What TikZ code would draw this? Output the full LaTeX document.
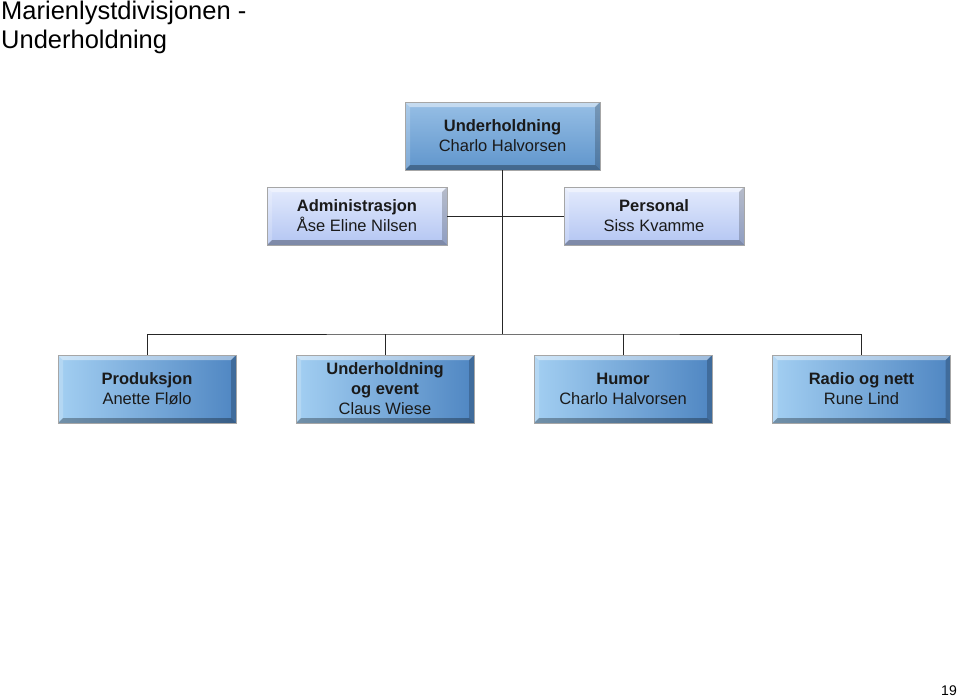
\documentclass[tikz,border=0pt]{standalone}
\usepackage{fontspec}
\setmainfont{Liberation Sans}
\usepackage{tikz}
\usetikzlibrary{calc,positioning}

\definecolor{topblue}{HTML}{7DAFDF}
\definecolor{topblued}{HTML}{5F95CC}
\definecolor{staffhi}{HTML}{E4EBFD}
\definecolor{stafflo}{HTML}{B3C5F2}
\definecolor{unithi}{HTML}{A3CFF2}
\definecolor{unitlo}{HTML}{4F86C2}
\definecolor{txt}{HTML}{1A1A1A}

\tikzset{
  bevel/.style={path picture={
      \fill[white,opacity=.45] (path picture bounding box.north west) -- (path picture bounding box.north east)
        -- ([shift={(-5,5)}]path picture bounding box.north east) -- ([shift={(5,5)}]path picture bounding box.north west) -- cycle;
      \fill[white,opacity=.2] (path picture bounding box.north west) -- (path picture bounding box.south west)
        -- ([shift={(5,-5)}]path picture bounding box.south west) -- ([shift={(5,5)}]path picture bounding box.north west) -- cycle;
      \fill[black,opacity=.3] (path picture bounding box.south west) -- (path picture bounding box.south east)
        -- ([shift={(-5,-5)}]path picture bounding box.south east) -- ([shift={(5,-5)}]path picture bounding box.south west) -- cycle;
      \fill[black,opacity=.2] (path picture bounding box.north east) -- (path picture bounding box.south east)
        -- ([shift={(-5,-5)}]path picture bounding box.south east) -- ([shift={(-5,5)}]path picture bounding box.north east) -- cycle;
  }},
  box/.style={bevel, draw=gray!70, line width=.6pt, align=center, text=txt, font=\fontsize{16.5}{20}\selectfont, inner sep=0pt},
  headbox/.style={box, minimum width=195, minimum height=68, top color=topblue!80!white, bottom color=topblued},
  staffbox/.style={box, minimum width=180, minimum height=58, top color=staffhi, bottom color=stafflo},
  unitbox/.style={box, minimum width=178, minimum height=68, shading=axis, shading angle=135, left color=unithi, right color=unitlo},
  link/.style={draw=black!85, line width=.8pt}
}

\begin{document}
\begin{tikzpicture}[x=1pt, y=-1pt]
        \useasboundingbox (0,0) rectangle (959,697);

        \node [anchor=north west, align=left, inner sep=0pt, font=\fontsize{25.5}{29}\selectfont] (title) at (1,1)
            {Marienlystdivisjonen -\\Underholdning};

        \node [headbox] (head) at (502.5,136) {\textbf{Underholdning}\\Charlo Halvorsen};
        \node [staffbox] (admin) at (357,216) {\textbf{Administrasjon}\\Åse Eline Nilsen};
        \node [staffbox] (pers) at (654,216) {\textbf{Personal}\\Siss Kvamme};

        \node [unitbox] (prod) at (147,389) {\textbf{Produksjon}\\Anette Flølo};
        \node [unitbox] (event) at (385,389) {\textbf{Underholdning}\\\textbf{og event}\\Claus Wiese};
        \node [unitbox] (humor) at (623,389) {\textbf{Humor}\\Charlo Halvorsen};
        \node [unitbox] (radio) at (861.5,389) {\textbf{Radio og nett}\\Rune Lind};

        \coordinate (bus) at (502,334);

        \path[link] (head.south) edge (head.south |- bus);
        \path[link] (admin.east) edge (pers.west);
        \path[link] (prod.north) |- (bus) -| (radio.north);
        \path[link] (event.north) edge (event.north |- bus);
        \path[link] (humor.north) edge (humor.north |- bus);

        \node [anchor=south east, inner sep=0pt, font=\fontsize{14}{16}\selectfont] (page) at (957,696) {19};
    \end{tikzpicture}
\end{document}
